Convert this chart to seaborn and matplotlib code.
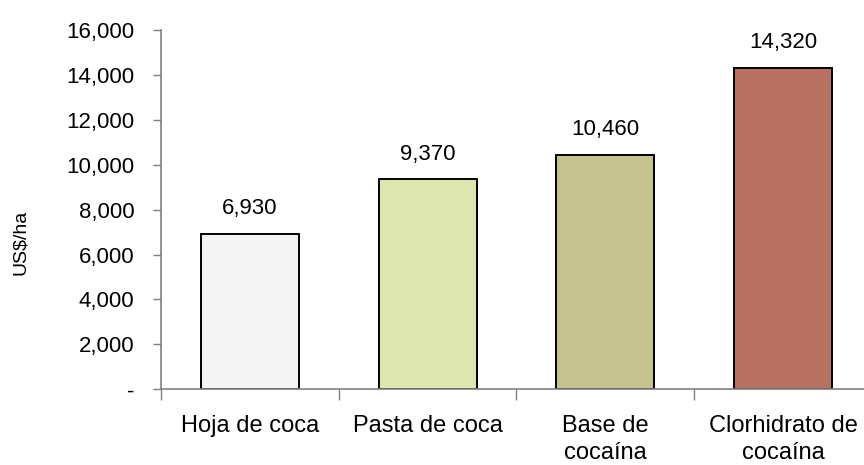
import matplotlib
matplotlib.use("Agg")
import matplotlib.pyplot as plt
import matplotlib.ticker as mticker
import seaborn as sns
import pandas as pd

# data
categories = ["Hoja de coca", "Pasta de coca", "Base de\ncocaína", "Clorhidrato de\ncocaína"]
values = [6930, 9370, 10460, 14320]
bar_colors = ["#F4F4F4", "#DEE6B0", "#C5C491", "#B87060"]
y_ticks = [0, 2000, 4000, 6000, 8000, 10000, 12000, 14000, 16000]

df = pd.DataFrame({"producto": categories, "valor": values})

sns.set_style("white")
plt.rcParams["font.family"] = ["Liberation Sans", "DejaVu Sans"]
plt.rcParams["text.color"] = "black"
plt.rcParams["xtick.labelcolor"] = "black"
plt.rcParams["ytick.labelcolor"] = "black"

fig = plt.figure(figsize=(8.64, 4.65), dpi=100)
# the plot area runs a little past the right edge of the image, like the original
ax = fig.add_axes([0.1863, 0.163, 0.823, 0.772])

sns.barplot(
    data=df,
    x="producto",
    y="valor",
    hue="producto",
    palette=bar_colors,
    legend=False,
    width=0.55,
    edgecolor="black",
    linewidth=1.4,
    saturation=1,
    ax=ax,
)

# value labels above bars
for i, v in enumerate(values):
    ax.annotate(
        f"{v:,}",
        xy=(i, v),
        xytext=(0, 14),
        textcoords="offset points",
        ha="center",
        va="baseline",
        fontsize=16,
        color="black",
    )

# axes styling
ax.set_ylim(0, 16000)
ax.set_xlim(-0.5, len(categories) - 0.5)
ax.set_yticks(y_ticks)
ax.yaxis.set_major_formatter(
    mticker.FuncFormatter(lambda v, p: "-" if v == 0 else f"{int(v):,}")
)
ax.tick_params(axis="y", which="major", direction="out", length=6,
               color="#808080", width=1, labelsize=16, pad=13, left=True,
               labelcolor="black")

# category boundaries as ticks, labels at centers
ax.set_xticks([i - 0.5 for i in range(len(categories) + 1)])
ax.set_xticklabels([])
ax.set_xticks(range(len(categories)), minor=True)
ax.set_xticklabels(categories, minor=True, linespacing=1.28)
ax.tick_params(axis="x", which="major", direction="out", length=8,
               color="#808080", width=1, bottom=True)
ax.tick_params(axis="x", which="minor", length=0, labelsize=17, pad=18.5,
               labelcolor="black")

ax.set_xlabel("")
ax.set_ylabel("US$/ha", fontsize=14, color="black")
ax.yaxis.set_label_coords(-0.185, 0.41)

for side in ["top", "right"]:
    ax.spines[side].set_visible(False)
for side in ["left", "bottom"]:
    ax.spines[side].set_color("#808080")
    ax.spines[side].set_linewidth(1.2)

plt.savefig("out.png", dpi=100)
